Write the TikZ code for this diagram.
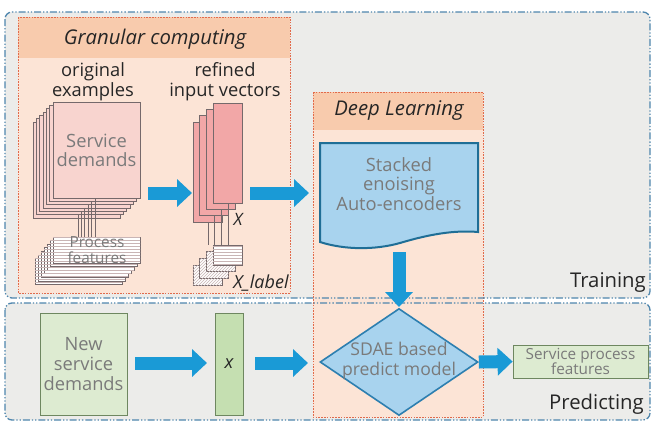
\documentclass[tikz,border=0pt]{standalone}
\usepackage{fontspec}
\setmainfont{Open Sans}
\usetikzlibrary{arrows.meta,patterns,shapes.geometric}
\definecolor{panelfill}{HTML}{ECECEA}
\definecolor{panelline}{HTML}{4F86AD}
\definecolor{peach}{HTML}{FCE4D6}
\definecolor{peachhead}{HTML}{F8CBAD}
\definecolor{redline}{HTML}{E26A4A}
\definecolor{pinkA}{HTML}{F8D4CF}
\definecolor{pinkB}{HTML}{F2A7A7}
\definecolor{stackline}{HTML}{75696B}
\definecolor{stripe}{HTML}{C9B5B5}
\definecolor{arrowblue}{HTML}{1A9AD6}
\definecolor{lightblue}{HTML}{A8D3EE}
\definecolor{darkblue}{HTML}{1F6E96}
\definecolor{diamondline}{HTML}{2D7FB0}
\definecolor{greenA}{HTML}{DDEBD1}
\definecolor{greenB}{HTML}{C5DFB1}
\definecolor{greenline}{HTML}{6E8760}
\definecolor{txtgray}{HTML}{7A7A7A}
\definecolor{txtdark}{HTML}{262626}
\newcommand\fsbig{\fontsize{18.3}{20}\selectfont}
\newcommand\fshead{\fontsize{20.3}{22}\selectfont}
\newcommand\fssmall{\fontsize{15.3}{15.5}\selectfont}
\begin{document}
\begin{tikzpicture}[x=1pt,y=-1pt,
  panelborder/.style={draw=panelline, line width=1.3pt, dash pattern=on 7pt off 2pt on 1.3pt off 2pt on 1.3pt off 2pt, rounded corners=7pt},
  zoneborder/.style={draw=redline, line width=0.9pt, dash pattern=on 1.6pt off 1.2pt},
  sdlayer/.style={fill=pinkA, draw=stackline, line width=0.8pt},
  xlayer/.style={fill=pinkB, draw=stackline, line width=0.8pt},
  hlayer/.style={fill=white, draw=stackline, line width=0.8pt, postaction={pattern=horizontal lines, pattern color=stripe}},
  dlayer/.style={fill=white, draw=stackline, line width=0.8pt, postaction={pattern=north east lines, pattern color=stripe}},
  link/.style={draw=stackline, line width=0.8pt},
  bigarrow/.style={draw=arrowblue, line width=13pt, -{Triangle[length=15pt,width=27pt]}},
  lbl/.style={inner sep=0pt, align=center, text=txtdark},
  inlbl/.style={inner sep=0pt, align=center, text=txtgray},
  greenbox/.style={draw=greenline, line width=0.8pt, inner sep=0pt, align=center, text=txtgray},
]
\useasboundingbox (0,0) rectangle (652,421);
% panels
\fill[panelfill, rounded corners=7pt] (5,12) rectangle (650,298);
\fill[panelfill, rounded corners=7pt] (5,303) rectangle (650,420);
% zones
\fill[peach] (18,17) rectangle (290,293);
\fill[peachhead] (18,17) rectangle (290,58);
\draw[zoneborder] (18,17) rectangle (290,293);
\fill[peach] (313,92) rectangle (483,417);
\fill[peachhead] (313,92) rectangle (483,130);
\draw[zoneborder] (313,92) rectangle (483,417);
% panel borders
\draw[panelborder] (5,12) rectangle (650,298);
\draw[panelborder] (5,303) rectangle (650,420);
% headers
\node[lbl, font=\fshead\itshape] (gc) at (155,39) {Granular computing};
\node[lbl, font=\fshead\itshape] (dl) at (399,110) {Deep Learning};
\node[lbl, font=\fsbig] (oe) at (93,82) {original\\examples};
\node[lbl, font=\fsbig] (riv) at (225,82) {refined\\input vectors};
% service demands stack
\foreach \k in {6,5,...,1} {\draw[sdlayer] (53-3.33*\k,102+3.33*\k) rectangle ++(87,96);}
\node[sdlayer, minimum width=87pt, minimum height=96pt, inner sep=0pt, text=txtgray, font=\fontsize{18.3}{19}\selectfont, align=center] (sd) at (96.5,150) {Service\\demands};
% process features stack
\foreach \k in {6,5,...,1} {\draw[hlayer] (53-3*\k,237+3.6*\k) rectangle ++(87,26);}
\node[hlayer, minimum width=87pt, minimum height=26pt, inner sep=0pt] (pf) at (96.5,250) {};
\node[inlbl, font=\fssmall] (pftxt) at (97,250) {Process\\features};
\foreach \k in {0,...,5} {\draw[link] (95-3.4*\k,198+3.33*\k) -- (95-3.4*\k,237);}
% refined vectors stack
\foreach \k in {3,2,1} {\draw[xlayer] (213-6.6*\k,103+6.3*\k) rectangle ++(29,100);}
\node[xlayer, minimum width=29pt, minimum height=100pt, inner sep=0pt] (xv) at (227.5,153) {};
% x_label stack
\foreach \k in {3,2,1} {\draw[dlayer] (213-6.7*\k,245+6.7*\k) rectangle ++(29,20);}
\node[hlayer, minimum width=29pt, minimum height=20pt, inner sep=0pt] (xl) at (227.5,255) {};
\foreach \k in {0,...,3} {\draw[link] (228-6.6*\k,203+6.3*\k) -- (228-6.6*\k,245);}
\node[lbl, font=\fontsize{17}{18}\selectfont\itshape] (xlab) at (238,219) {X};
\node[lbl, font=\fontsize{18}{18}\selectfont\itshape] (xllab) at (261,283) {X\_label};
% SDAE document
\path[fill=lightblue, draw=darkblue, line width=2pt] (320,143) -- (478,143) -- (478,232) .. controls (455,230) and (430,234) .. (400,243) .. controls (375,250) and (345,250) .. (320,242) -- cycle;
\node[inlbl, font=\fontsize{18.3}{19.5}\selectfont] (sae) at (399,184) {Stacked\\enoising\\Auto-encoders};
% predicting
\node[diamond, fill=lightblue, draw=diamondline, line width=1.6pt, minimum width=158pt, minimum height=107pt, inner sep=0pt] (sdae) at (399,362) {};
\node[inlbl, font=\fontsize{17.6}{20}\selectfont] (sdaetxt) at (399,361) {SDAE based\\predict model};
\node[greenbox, fill=greenA, minimum width=87pt, minimum height=102pt, font=\fontsize{18.3}{20}\selectfont] (nsd) at (83.5,364) {New\\service\\demands};
\node[greenbox, fill=greenB, minimum width=28pt, minimum height=102pt, font=\fsbig\itshape, text=txtdark] (xb) at (229,364) {x};
\node[greenbox, fill=greenA, minimum width=135pt, minimum height=33pt, font=\fssmall] (spf) at (580.5,361.5) {Service process\\features};
\node[lbl, font=\fshead, anchor=east] (tr) at (646,282) {Training};
\node[lbl, font=\fshead, anchor=east] (pr) at (644,404) {Predicting};
% arrows
\coordinate (a1s) at (148,193); \coordinate (a1e) at (192,193);
\coordinate (a2s) at (250,193); \coordinate (a2e) at (309,193);
\coordinate (a3s) at (399,252); \coordinate (a3e) at (399,307);
\coordinate (a4s) at (135,363); \coordinate (a4e) at (207,363);
\coordinate (a5s) at (255,363); \coordinate (a5e) at (308,363);
\draw[bigarrow] (a1s) -- (a1e);
\draw[bigarrow] (a2s) -- (a2e);
\draw[bigarrow] (a3s) -- (a3e);
\draw[bigarrow] (a4s) -- (a4e);
\draw[bigarrow] (a5s) -- (a5e);
\draw[bigarrow] (sdae.east) -- (spf.west);
\end{tikzpicture}
\end{document}
